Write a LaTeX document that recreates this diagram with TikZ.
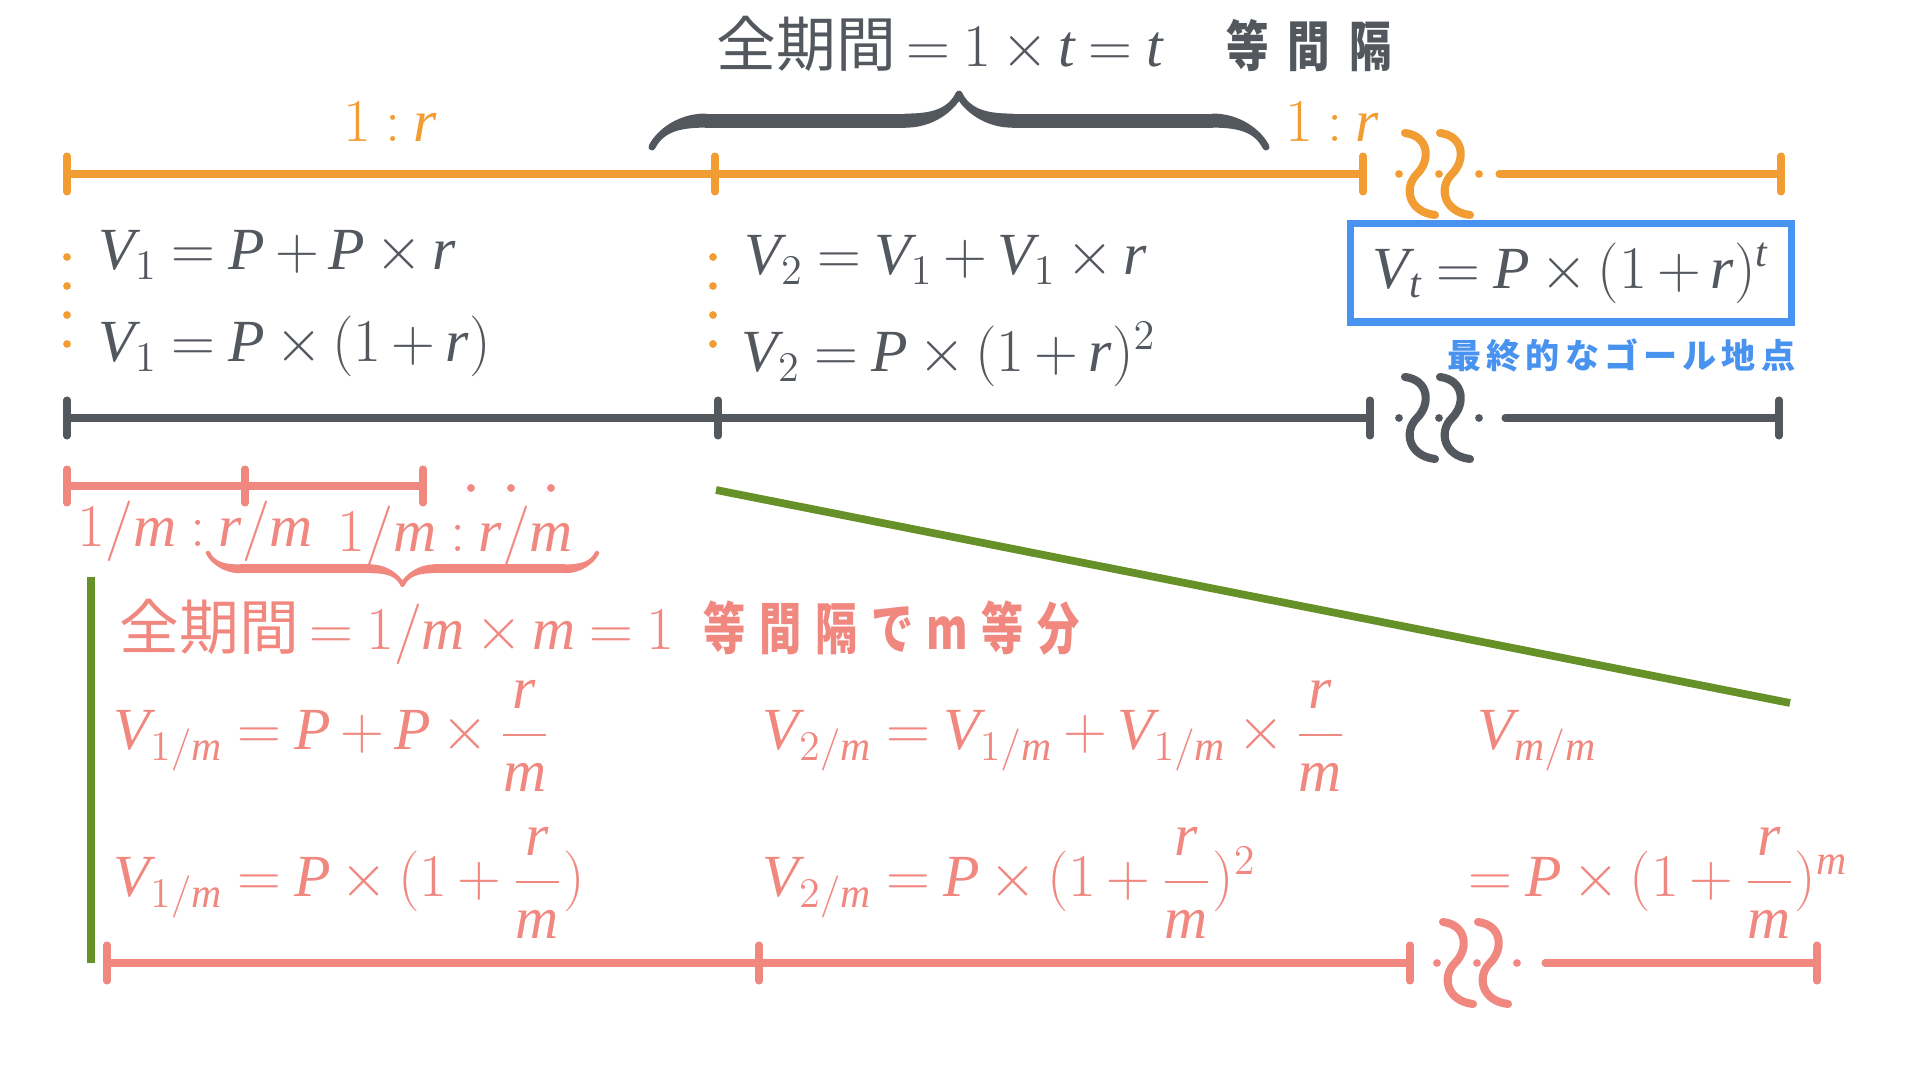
\documentclass[tikz,border=0pt]{standalone}
\usepackage{amsmath}
\usepackage{fontspec}
\newfontfamily\jpfont{Noto Sans CJK JP}
\newfontfamily\roundjp[FakeStretch=0.78,LetterSpace=35]{Noto Sans CJK JP}
\newfontfamily\roundjpsub[FakeStretch=0.75,LetterSpace=24]{Noto Sans CJK JP}
\newfontfamily\goalfont[LetterSpace=15]{Noto Sans CJK JP}
\newfontfamily\mathletters[NFSSFamily=mlet]{Liberation Serif}
\usetikzlibrary{positioning,decorations.pathreplacing,calligraphy}

% letters and figures of the formulas
\DeclareSymbolFont{mlit}{TU}{mlet}{m}{it}
\DeclareSymbolFont{mlup}{TU}{mlet}{m}{n}
\DeclareMathSymbol{V}{\mathalpha}{mlit}{`V}
\DeclareMathSymbol{P}{\mathalpha}{mlit}{`P}
\DeclareMathSymbol{r}{\mathalpha}{mlit}{`r}
\DeclareMathSymbol{t}{\mathalpha}{mlit}{`t}
\DeclareMathSymbol{m}{\mathalpha}{mlit}{`m}
\DeclareMathSymbol{1}{\mathalpha}{mlup}{`1}
\DeclareMathSymbol{2}{\mathalpha}{mlup}{`2}
\DeclareMathSymbol{/}{\mathord}{mlup}{`/}
\DeclareMathSymbol{=}{\mathrel}{mlup}{`=}
\DeclareMathSymbol{+}{\mathbin}{mlup}{`+}
\DeclareMathSymbol{:}{\mathrel}{mlup}{`:}
\DeclareMathSymbol{(}{\mathopen}{mlup}{`(}
\DeclareMathSymbol{)}{\mathclose}{mlup}{`)}
\thickmuskip=4mu plus 2mu
\medmuskip=3mu plus 2mu minus 3mu

\definecolor{ink}{RGB}{83,87,94}
\definecolor{amber}{RGB}{241,157,52}
\definecolor{sky}{RGB}{72,146,240}
\definecolor{salmon}{RGB}{240,136,128}
\definecolor{moss}{RGB}{101,145,40}

\newcommand{\jptext}[1]{{\jpfont\fontsize{17}{20}\selectfont #1}}
% break mark on a time line: colour, centre
\newcommand{\wavebreak}[2]{%
  \begin{scope}[shift={#2}, #1]
    \foreach \dx in {0,35}
      \draw[line width=2.3pt, line cap=round, shift={(\dx,0)}]
        (-34,-41) .. controls (-10,-38) and (-8,-14) .. (-22,0)
        .. controls (-36,14) and (-30,38) .. (-4,41);
    \foreach \dx in {-40,0,40}
      \fill (\dx,0) circle (1.1pt);
  \end{scope}}

\tikzset{
    %Define style for time lines
    axis/.style={line width=2pt, line cap=round},
    %Define style for formulas
    eq/.style={inner sep=0pt, anchor=base west,
           font=\fontsize{17}{20}\selectfont},
    spaced/.style={inner sep=0pt,
           font=\roundjp\bfseries\fontsize{15.5}{18}\selectfont},
    spacedsub/.style={inner sep=0pt,
           font=\roundjpsub\bfseries\fontsize{16}{18}\selectfont},
    goaltxt/.style={inner sep=0pt, text=sky,
           font=\goalfont\bfseries\fontsize{9.7}{12}\selectfont},
    % Define brace style
    bigbrace/.style={decorate,
           decoration={calligraphic brace, amplitude=#1}}
}

\begin{document}
\begin{tikzpicture}[x=0.01cm,y=-0.01cm]
\useasboundingbox (0,0) rectangle (1920,1080);

% whole period
\node[eq, text=ink] (title) at (716,67) {\jptext{全期間}\,$=1\times t=t$};
\node[spaced, text=ink, base right=0.62cm of title] (titlekanji) {等間隔};
\draw[bigbrace=15pt, line width=4pt, pen colour=ink] (652,147) -- (1266,147);

% yearly steps
\node[eq, text=amber] (rate1) at (343,142) {$1:r$};
\node[eq, text=amber] (rate2) at (1285,142) {$1:r$};
\draw[axis, amber] (67,174) -- (1363,174);
\draw[axis, amber] (1499,174) -- (1781,174);
\foreach \x in {67,715,1363,1781}
  \draw[axis, amber] (\x,156) -- (\x,192);
\wavebreak{amber}{(1439,174)}
\foreach \x in {67,713}
  \foreach \y in {257,286,315,344}
    \fill[amber] (\x,\y) circle (1.1pt);

\node[eq, text=ink] (v1a) at (98,270) {$V_1=P+P\times r$};
\node[eq, text=ink] (v1b) at (98,362) {$V_1=P\times(1+r)$};
\node[eq, text=ink] (v2a) at (744,275) {$V_2=V_1+V_1\times r$};
\node[eq, text=ink] (v2b) at (741,372) {$V_2=P\times(1+r)^2$};
\node[draw=sky, line width=2pt, minimum width=4.4cm, minimum height=0.98cm,
      inner sep=0pt, text=ink, font=\fontsize{17}{20}\selectfont]
      (goal) at (1571,273) {$V_t=P\times(1+r)^t$};
\node[goaltxt, anchor=north east] (goalnote) at (1796,338) {最終的なゴール地点};

\draw[axis, ink] (67,418) -- (1370,418);
\draw[axis, ink] (1505,418) -- (1779,418);
\foreach \x in {67,718,1370,1779}
  \draw[axis, ink] (\x,400) -- (\x,436);
\wavebreak{ink}{(1439,418)}

% steps of 1/m
\draw[axis, salmon] (67,486) -- (423,486);
\foreach \x in {67,245,423}
  \draw[axis, salmon] (\x,469) -- (\x,503);
\foreach \x in {471,511,551}
  \fill[salmon] (\x,488) circle (1.1pt);
\node[eq, text=salmon] (part1) at (77,547) {$1/m:r/m$};
\node[eq, text=salmon] (part2) at (337,552) {$1/m:r/m$};
\draw[bigbrace=9pt, line width=2.5pt, pen colour=salmon] (597,553) -- (208,553);

\draw[moss, line width=2.2pt] (91,577) -- (91,963);
\draw[moss, line width=2.2pt] (716,490) -- (1790,703);

\node[eq, text=salmon] (subtitle) at (119,650) {\jptext{全期間}\,$=1/m\times m=1$};
\node[spacedsub, text=salmon, base right=0.28cm of subtitle] (subkanji) {等間隔でm等分};

\node[eq, text=salmon] (w1a) at (113,750) {$V_{1/m}=P+P\times\dfrac{r}{m}$};
\node[eq, text=salmon] (w2a) at (762,750) {$V_{2/m}=V_{1/m}+V_{1/m}\times\dfrac{r}{m}$};
\node[eq, text=salmon] (wma) at (1477,750) {$V_{m/m}$};
\node[eq, text=salmon] (w1b) at (113,897) {$V_{1/m}=P\times(1+\dfrac{r}{m})$};
\node[eq, text=salmon] (w2b) at (762,897) {$V_{2/m}=P\times(1+\dfrac{r}{m})^2$};
\node[eq, text=salmon] (wmb) at (1468,897) {$=P\times(1+\dfrac{r}{m})^m$};

\draw[axis, salmon] (107,963) -- (1410,963);
\draw[axis, salmon] (1545,963) -- (1817,963);
\foreach \x in {107,759,1410,1817}
  \draw[axis, salmon] (\x,945) -- (\x,981);
\wavebreak{salmon}{(1477,963)}
\end{tikzpicture}
\end{document}
